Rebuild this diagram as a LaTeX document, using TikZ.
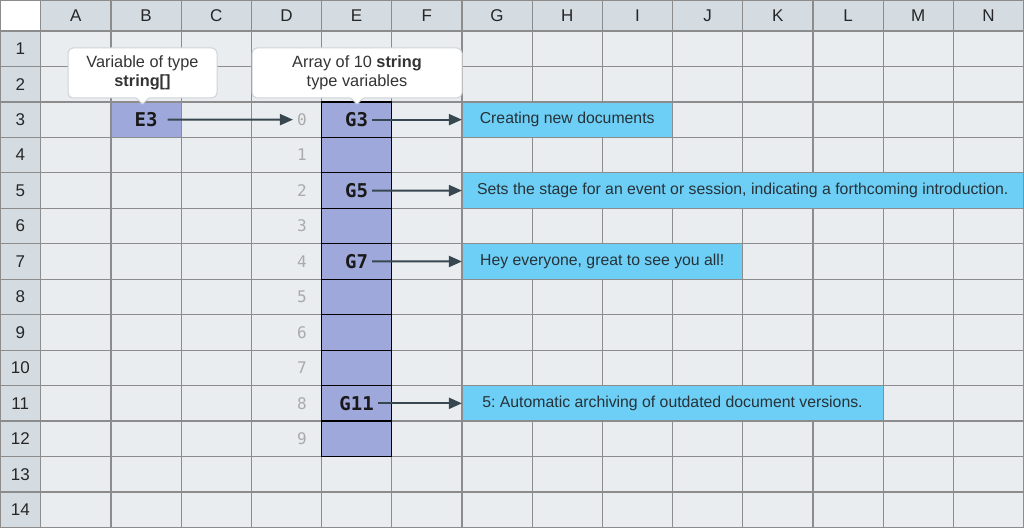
\documentclass[tikz,border=0pt]{standalone}
\usepackage{fontspec}
\setmainfont{Liberation Sans}
\newfontfamily\monof{DejaVu Sans Mono}
\usetikzlibrary{arrows.meta}
\definecolor{hdr}{HTML}{D4DCE2}
\definecolor{cellbg}{HTML}{E9EDF0}
\definecolor{gridc}{HTML}{8C8C8C}
\definecolor{lav}{HTML}{9FA8DA}
\definecolor{sky}{HTML}{6DCFF6}
\definecolor{arr}{HTML}{37474F}
\definecolor{idxc}{HTML}{AAAAAA}
\definecolor{txt}{HTML}{263238}
\definecolor{callb}{HTML}{CDD3D8}
\frenchspacing
\begin{document}
\begin{tikzpicture}[x=1pt,y=-1pt,
  gridline/.style={draw=gridc, line width=1.2},
  hdrtext/.style={font=\fontsize{17}{20}\selectfont, text=black!85, inner sep=0},
  celltext/.style={font=\monof\bfseries\fontsize{19}{21}\selectfont, text=black!90, inner xsep=4, inner ysep=0},
  idx/.style={font=\monof\fontsize{16}{18}\selectfont, text=idxc, inner xsep=4, inner ysep=0, anchor=east},
  skybox/.style={fill=sky, draw=gridc, line width=1.2, inner sep=0, outer sep=0, anchor=north west,
    minimum height=35.46, font=\fontsize{15.8}{18}\selectfont, text=txt},
  conn/.style={draw=arr, line width=2, -{Triangle[length=13,width=11]}},
  callout/.style={fill=white, draw=callb, line width=1, rounded corners=5, minimum height=50,
    align=center, inner sep=0, outer sep=0, font=\fontsize{16.3}{19.5}\selectfont, text=black!80}]
\useasboundingbox (0,0) rectangle (1024,529);
\fill[white] (0,0) rectangle (1024,529);
% backgrounds
\fill[cellbg] (40.7,31) rectangle (1023.5,527.44);
\fill[hdr] (40.7,0) rectangle (1023.5,31);
\fill[hdr] (0,31) rectangle (40.7,527.44);
\fill[lav] (110.9,101.92) rectangle (181.1,137.38);
\fill[lav] (321.5,101.92) rectangle (391.7,456.52);
% grid
\foreach \i in {0,...,14} \draw[gridline] ({40.7+70.2*\i},0) -- ({40.7+70.2*\i},527.44);
\foreach \j in {0,...,14} \draw[gridline] (0,{31+35.46*\j}) -- (1023.5,{31+35.46*\j});
\draw[gridline] (0.6,0.6) rectangle (1023.4,527.44);
% array cells
\foreach \j in {2,...,11} \draw[black, line width=1.2] (321.5,{31+35.46*\j}) rectangle (391.7,{31+35.46*(\j+1)});
% headers
\foreach \L [count=\i from 0] in {A,B,C,D,E,F,G,H,I,J,K,L,M,N}
  \node[hdrtext] (col\L) at ({75.8+70.2*\i},16) {\L};
\foreach \r in {1,...,14}
  \node[hdrtext] (row\r) at (20.3,{31+35.46*(\r-0.5)}) {\r};
% value boxes
\node[skybox, minimum width=210.6] (t3) at (461.9,101.92) {Creating new documents};
\node[skybox, minimum width=561.6] (t5) at (461.9,172.84) {Sets the stage for an event or session, indicating a forthcoming introduction.};
\node[skybox, minimum width=280.8] (t7) at (461.9,243.76) {Hey everyone, great to see you all!};
\node[skybox, minimum width=421.2] (t11) at (461.9,385.6) {5: Automatic archiving of outdated document versions.};
% indices
\foreach \k in {0,...,9}
  \node[idx] (i\k) at (311,{31+35.46*(\k+2.5)}) {\k};
% cell texts
\node[celltext, inner xsep=10] (e3) at (146,119.65) {E3};
\node[celltext] (g3) at (356.6,119.65) {G3};
\node[celltext] (g5) at (356.6,190.57) {G5};
\node[celltext] (g7) at (356.6,261.49) {G7};
\node[celltext] (g11) at (356.6,403.33) {G11};
% connectors
\draw[conn] (e3.east) -- (i0.west);
\draw[conn] (g3.east) -- (t3.west);
\draw[conn] (g5.east) -- (t5.west);
\draw[conn] (g7.east) -- (t7.west);
\draw[conn] (g11.east) -- (t11.west);
% callouts
\node[callout, minimum width=149] (c1) at (142.5,73) {Variable of type\\\textbf{string[]}};
\node[callout, minimum width=210] (c2) at (357,73) {Array of 10 \textbf{string}\\type variables};
\fill[white] (c1.south) ++(-7,-1) -- ++(7,7) -- ++(7,-7) -- cycle;
\draw[callb, line width=1] (c1.south) ++(-6.5,0) -- ++(6.5,6) -- ++(6.5,-6);
\fill[white] (c2.south) ++(-7,-1) -- ++(7,7) -- ++(7,-7) -- cycle;
\draw[callb, line width=1] (c2.south) ++(-6.5,0) -- ++(6.5,6) -- ++(6.5,-6);
\end{tikzpicture}
\end{document}
